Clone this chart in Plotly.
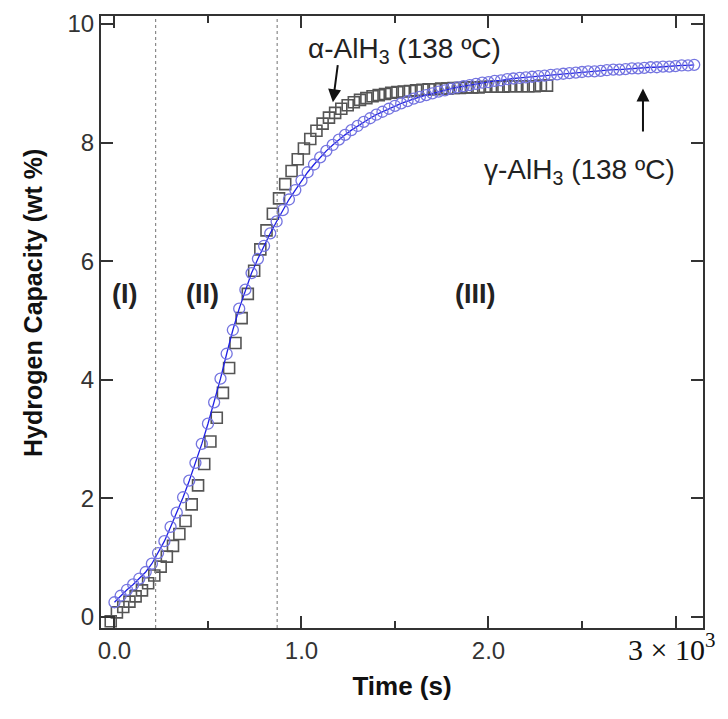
import plotly.graph_objects as go

# Temps (10^3 s) et capacité (wt %)
t_gamma = [0.000, 0.033, 0.067, 0.100, 0.133, 0.167, 0.200, 0.233, 0.267, 0.300,
           0.333, 0.367, 0.400, 0.433, 0.467, 0.500, 0.533, 0.567, 0.600, 0.633,
           0.667, 0.700, 0.733, 0.767, 0.800, 0.833, 0.867, 0.900, 0.933, 0.967,
           1.000, 1.033, 1.067, 1.100, 1.133, 1.167, 1.200, 1.233, 1.267, 1.300,
           1.333, 1.367, 1.400, 1.433, 1.467, 1.500, 1.533, 1.567, 1.600, 1.633,
           1.667, 1.700, 1.733, 1.767, 1.800, 1.833, 1.867, 1.900, 1.933, 1.967,
           2.000, 2.033, 2.067, 2.100, 2.133, 2.167, 2.200, 2.233, 2.267, 2.300,
           2.333, 2.367, 2.400, 2.433, 2.467, 2.500, 2.533, 2.567, 2.600, 2.633,
           2.667, 2.700, 2.733, 2.767, 2.800, 2.833, 2.867, 2.900, 2.933, 2.967,
           3.000, 3.033, 3.067, 3.100]
h_gamma = [0.25, 0.36, 0.46, 0.55, 0.65, 0.76, 0.90, 1.08, 1.28, 1.52,
           1.76, 2.02, 2.30, 2.60, 2.92, 3.26, 3.62, 4.02, 4.44, 4.84,
           5.20, 5.52, 5.80, 6.04, 6.26, 6.47, 6.67, 6.86, 7.04, 7.20,
           7.36, 7.50, 7.63, 7.75, 7.86, 7.96, 8.05, 8.13, 8.21, 8.28,
           8.35, 8.41, 8.47, 8.52, 8.57, 8.62, 8.66, 8.70, 8.74, 8.77,
           8.80, 8.83, 8.86, 8.88, 8.91, 8.93, 8.95, 8.97, 8.99, 9.01,
           9.02, 9.04, 9.05, 9.07, 9.08, 9.09, 9.10, 9.11, 9.12, 9.13,
           9.14, 9.15, 9.16, 9.17, 9.18, 9.19, 9.20, 9.20, 9.21, 9.22,
           9.23, 9.23, 9.24, 9.25, 9.25, 9.26, 9.27, 9.27, 9.28, 9.28,
           9.29, 9.30, 9.30, 9.31]

t_alpha = [-0.020, 0.013, 0.047, 0.080, 0.113, 0.147, 0.180, 0.213, 0.247, 0.280,
           0.313, 0.347, 0.380, 0.413, 0.447, 0.480, 0.513, 0.547, 0.580, 0.613,
           0.647, 0.680, 0.713, 0.747, 0.780, 0.813, 0.847, 0.880, 0.913, 0.947,
           0.980, 1.013, 1.047, 1.080, 1.113, 1.147, 1.180, 1.213, 1.247, 1.280,
           1.313, 1.347, 1.380, 1.413, 1.447, 1.480, 1.513, 1.547, 1.580, 1.613,
           1.647, 1.680, 1.713, 1.747, 1.780, 1.813, 1.847, 1.880, 1.913, 1.947,
           1.980, 2.013, 2.047, 2.080, 2.113, 2.147, 2.180, 2.213, 2.247, 2.280,
           2.313]
h_alpha = [-0.07, 0.08, 0.17, 0.26, 0.35, 0.45, 0.57, 0.70, 0.85, 1.02,
           1.20, 1.40, 1.62, 1.90, 2.22, 2.58, 2.96, 3.36, 3.78, 4.20,
           4.62, 5.04, 5.45, 5.84, 6.20, 6.52, 6.80, 7.06, 7.30, 7.52,
           7.72, 7.90, 8.06, 8.20, 8.32, 8.42, 8.50, 8.57, 8.63, 8.68,
           8.72, 8.75, 8.78, 8.80, 8.82, 8.84, 8.85, 8.86, 8.87, 8.88,
           8.89, 8.90, 8.90, 8.91, 8.91, 8.92, 8.92, 8.93, 8.93, 8.93,
           8.94, 8.94, 8.94, 8.94, 8.95, 8.95, 8.95, 8.95, 8.95, 8.96,
           8.96]

# Limites des régions (I), (II), (III)
t_limites = [0.22, 0.87]
regions = ["(I)", "(II)", "(III)"]
t_regions = [0.055, 0.47, 1.93]
h_regions = 5.45

x_ticks = [0, 1, 2, 3]
x_ticktext = ["0.0", "1.0", "2.0", ""]
y_ticks = [0, 2, 4, 6, 8, 10]

fig = go.Figure()

fig.add_trace(go.Scatter(
    x=t_alpha, y=h_alpha, mode="markers", name="α-AlH3",
    marker=dict(symbol="square-open", size=11, color="#555555", line=dict(width=1.6))
))
fig.add_trace(go.Scatter(
    x=t_gamma, y=h_gamma, mode="lines+markers", name="γ-AlH3",
    line=dict(color="#1f1fe6", width=1.3),
    marker=dict(symbol="circle-open", size=11, color="#7474e0", line=dict(width=1.3))
))

for t in t_limites:
    fig.add_shape(type="line", x0=t, x1=t, y0=0, y1=1, xref="x", yref="paper",
                  line=dict(color="#8a8a8a", width=1.2, dash="dot"))

for lab, t in zip(regions, t_regions):
    fig.add_annotation(x=t, y=h_regions, text=lab, showarrow=False,
                       font=dict(size=27, color="#222", family="Liberation Sans", weight="bold"))

txt_font = dict(size=28, color="#222", family="Liberation Sans")
fig.add_annotation(x=1.553, y=9.55, text="α-AlH<sub>3</sub> (138 ºC)", showarrow=False, font=txt_font)
fig.add_annotation(x=1.168, y=8.68, ax=1.195, ay=9.33, axref="x", ayref="y", text="",
                   showarrow=True, arrowhead=2, arrowsize=1.3, arrowwidth=2, arrowcolor="#111")
fig.add_annotation(x=2.489, y=7.51, text="γ-AlH<sub>3</sub> (138 ºC)", showarrow=False, font=txt_font)
fig.add_annotation(x=2.826, y=8.91, ax=2.826, ay=8.16, axref="x", ayref="y", text="",
                   showarrow=True, arrowhead=2, arrowsize=1.3, arrowwidth=2, arrowcolor="#111")

# étiquette du facteur d'échelle à la place de 3.0
fig.add_annotation(x=2.98, y=-0.031, xref="x", yref="paper", yanchor="middle",
                   text="3 × 10<sup>3</sup>", showarrow=False,
                   font=dict(size=30, color="#111", family="Liberation Serif"))

fig.add_annotation(x=-0.113, y=0.531, xref="paper", yref="paper", textangle=-90,
                   xanchor="center", yanchor="middle",
                   text="Hydrogen Capacity (wt %)", showarrow=False,
                   font=dict(size=25, color="#111", family="Liberation Sans", weight="bold"))

axis_style = dict(showline=True, linecolor="#333", linewidth=2, mirror="allticks",
                  ticks="inside", tickcolor="#333", tickwidth=2, showgrid=False,
                  zeroline=False, ticklabeloverflow="allow",
                  tickfont=dict(size=24, color="#333", family="Liberation Sans"))

fig.update_xaxes(range=[-0.072, 3.147], tickvals=x_ticks, ticktext=x_ticktext, ticklen=12,
                 minor=dict(tickvals=[0.5, 1.5, 2.5], ticks="inside", ticklen=7,
                            tickwidth=2, tickcolor="#333"),
                 title=dict(text="<b>Time (s)</b>", standoff=14,
                            font=dict(size=26, color="#111", family="Liberation Sans")),
                 **axis_style)
fig.update_yaxes(range=[-0.184, 10.134], tickvals=y_ticks, ticklen=12, **axis_style)

# la page ajoute 8 px de marge : marges décalées en conséquence
fig.update_layout(
    width=728, height=719,
    margin=dict(l=93, r=33, t=2, b=99),
    plot_bgcolor="white", paper_bgcolor="white",
    showlegend=False
)

fig.write_html("out.html")
